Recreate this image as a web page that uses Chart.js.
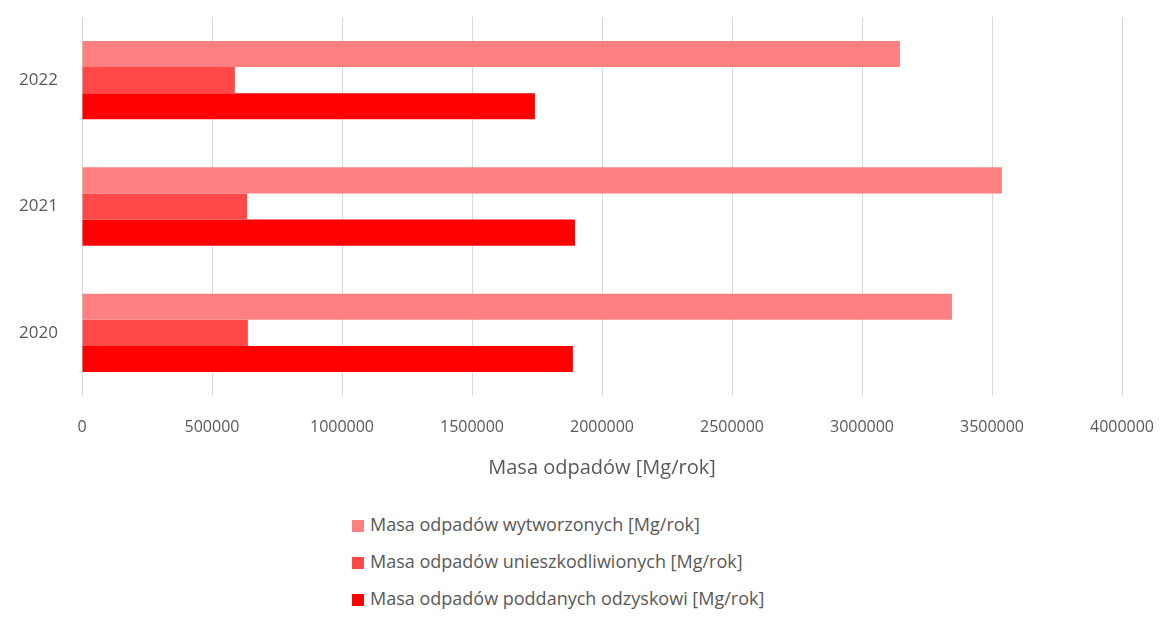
<!DOCTYPE html>
<html>
<head>
<meta charset="utf-8">
<script src="https://cdn.jsdelivr.net/npm/chart.js@4"></script>
<style>
  html, body { margin: 0; padding: 0; background: #fff; }
  #wrap { position: relative; width: 1170px; height: 625px; }
  #legend { position: absolute; left: 352px; top: 510px; font-family: "Open Sans", sans-serif; font-size: 18px; color: #595959; }
  #legend div { height: 37px; line-height: 28px; white-space: nowrap; }
  #legend span { display: inline-block; width: 12px; height: 12px; margin-right: 6px; vertical-align: -1px; }
</style>
</head>
<body>
<div id="wrap">
  <canvas id="wasteChart" width="1170" height="500"></canvas>
  <div id="legend"></div>
</div>
<script>
const years = ["2022", "2021", "2020"];
const generated = [3146000, 3538000, 3346000];
const neutralised = [588000, 635000, 638000];
const recovered = [1742000, 1896000, 1888000];
const seriesNames = [
  "Masa odpadów wytworzonych [Mg/rok]",
  "Masa odpadów unieszkodliwionych [Mg/rok]",
  "Masa odpadów poddanych odzyskowi [Mg/rok]",
];
const colors = ["#ff8080", "#ff4848", "#ff0000"];

const txt = "#595959";
const fontFam = "'Open Sans', sans-serif";

const ctx = document.getElementById("wasteChart").getContext("2d");
const chart = new Chart(ctx, {
  type: "bar",
  data: {
    labels: years,
    datasets: [generated, neutralised, recovered].map((d, i) => ({
      label: seriesNames[i],
      data: d,
      backgroundColor: colors[i],
      barPercentage: 1,
      categoryPercentage: 0.62,
    })),
  },
  options: {
    responsive: false,
    animation: false,
    indexAxis: "y",
    layout: { padding: { top: 17, right: 48, left: 0, bottom: 16 } },
    scales: {
      x: {
        min: 0,
        max: 4000000,
        ticks: {
          stepSize: 500000,
          color: txt,
          font: { family: fontFam, size: 16 },
          padding: 22,
          callback: (v) => String(v),
        },
        grid: { color: "#d9d9d9", drawTicks: false },
        border: { display: false },
        title: {
          display: true,
          text: "Masa odpadów [Mg/rok]",
          color: txt,
          font: { family: fontFam, size: 20 },
          padding: { top: 8, bottom: 4 },
        },
        afterFit: (scale) => {
          scale.height = 88;
          scale.paddingLeft = 0;
          scale.paddingRight = 0;
        },
      },
      y: {
        ticks: { color: txt, font: { family: fontFam, size: 17 }, padding: 16 },
        grid: { display: false },
        border: { display: false },
        afterFit: (scale) => {
          scale.width = 82;
          scale.paddingTop = 0;
          scale.paddingBottom = 0;
        },
      },
    },
    plugins: {
      legend: { display: false },
      tooltip: { enabled: false },
    },
  },
});

const legendEl = document.getElementById("legend");
chart.data.datasets.forEach((ds) => {
  const row = document.createElement("div");
  const box = document.createElement("span");
  box.style.background = ds.backgroundColor;
  row.appendChild(box);
  row.appendChild(document.createTextNode(ds.label));
  legendEl.appendChild(row);
});
</script>
</body>
</html>
